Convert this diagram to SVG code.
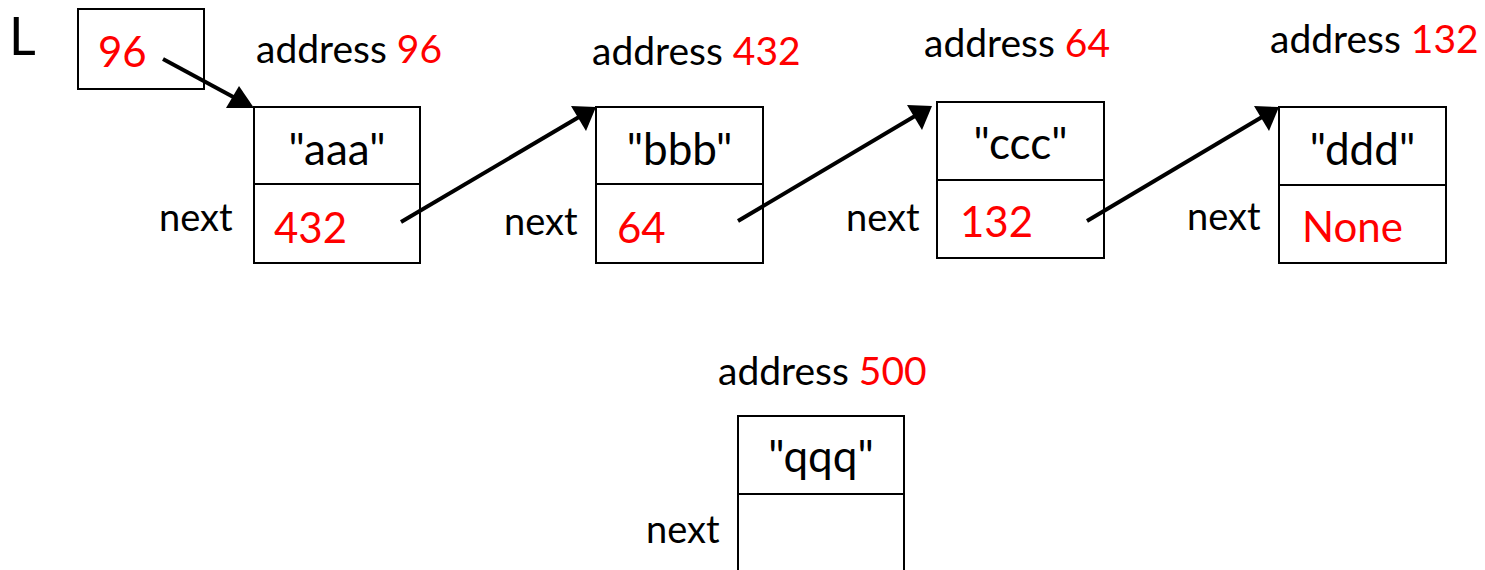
<svg xmlns="http://www.w3.org/2000/svg" width="1485" height="570" viewBox="0 0 1485 570">
<style>
.box{fill:#fff;stroke:#000;stroke-width:2}
.lbl{font-family:Lato,"Liberation Sans",sans-serif;font-size:39px;fill:#000}
.nx{font-family:Lato,"Liberation Sans",sans-serif;font-size:38px;fill:#000}
.val{font-family:Lato,"Liberation Sans",sans-serif;font-size:42px;fill:#ff0000}
.str{font-family:Lato,"Liberation Sans",sans-serif;font-size:44px;fill:#000}
.red{fill:#ff0000}
.conn{stroke:#000;stroke-width:4;fill:none}
.head{fill:#000}
</style>
<g id="L">
<text class="nx" x="9" y="55" style="font-size:52px">L</text>
<rect class="box" x="78" y="9" width="126" height="80"/>
<text class="val" x="98" y="67">96</text>
</g>
<g id="node96">
<text class="lbl" x="256" y="63">address <tspan class="red">96</tspan></text>
<rect class="box" x="254" y="107" width="166" height="156"/>
<line class="box" x1="254" y1="184" x2="420" y2="184"/>
<text class="str" x="337" y="165" text-anchor="middle">"aaa"</text>
<text class="nx" x="159" y="231">next</text>
<text class="val" x="274" y="243">432</text>
</g>
<g id="node432">
<text class="lbl" x="592" y="65">address <tspan class="red">432</tspan></text>
<rect class="box" x="596" y="107" width="167" height="156"/>
<line class="box" x1="596" y1="184" x2="763" y2="184"/>
<text class="str" x="679.5" y="165" text-anchor="middle">"bbb"</text>
<text class="nx" x="504" y="235">next</text>
<text class="val" x="617" y="243">64</text>
</g>
<g id="node64">
<text class="lbl" x="924" y="57">address <tspan class="red">64</tspan></text>
<rect class="box" x="937" y="102" width="167" height="156"/>
<line class="box" x1="937" y1="180" x2="1104" y2="180"/>
<text class="str" x="1020.5" y="159" text-anchor="middle">"ccc"</text>
<text class="nx" x="846" y="231">next</text>
<text class="val" x="960" y="237">132</text>
</g>
<g id="node132">
<text class="lbl" x="1270" y="53">address <tspan class="red">132</tspan></text>
<rect class="box" x="1279" y="107" width="167" height="156"/>
<line class="box" x1="1279" y1="185" x2="1446" y2="185"/>
<text class="str" x="1362.5" y="165" text-anchor="middle">"ddd"</text>
<text class="nx" x="1187" y="230">next</text>
<text class="val" x="1302" y="242">None</text>
</g>
<g id="node500">
<text class="lbl" x="718" y="385">address <tspan class="red">500</tspan></text>
<rect class="box" x="738" y="416" width="166" height="170"/>
<line class="box" x1="738" y1="494" x2="904" y2="494"/>
<text class="str" x="821" y="472" text-anchor="middle">"qqq"</text>
<text class="nx" x="646" y="543">next</text>
</g>
<g id="connectors">
<line class="conn" x1="163" y1="59" x2="237" y2="99"/>
<polygon class="head" points="254,108 226,108 239,86"/>
<line class="conn" x1="401" y1="222" x2="579" y2="117"/>
<polygon class="head" points="596,107 586,131 571,106"/>
<line class="conn" x1="738" y1="221" x2="915" y2="116"/>
<polygon class="head" points="932,106 922,130 907,105"/>
<line class="conn" x1="1087" y1="221" x2="1262" y2="117"/>
<polygon class="head" points="1279,107 1269,131 1254,106"/>
</g>
</svg>
